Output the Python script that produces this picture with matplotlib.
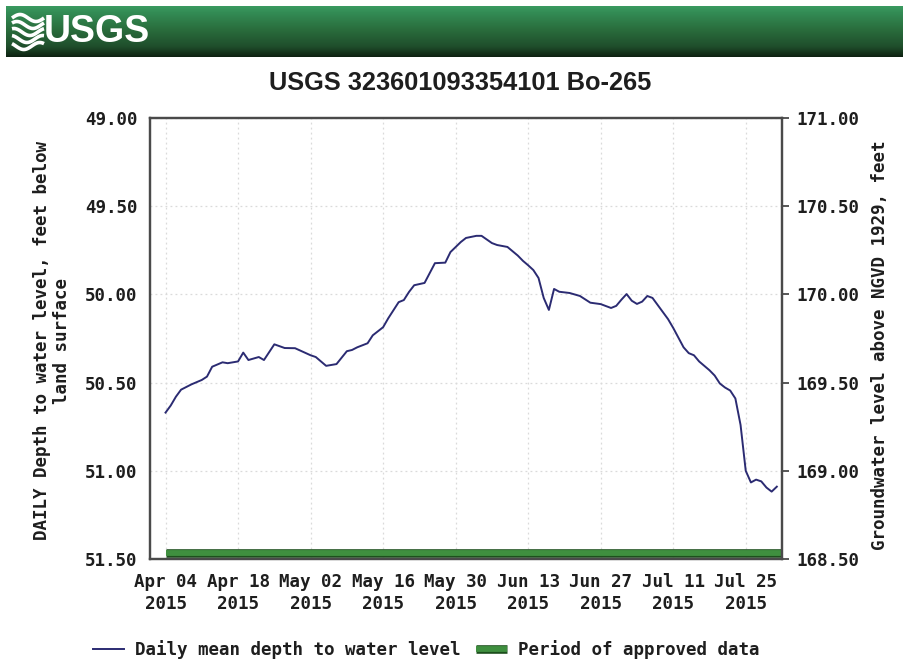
import matplotlib
matplotlib.use('Agg')
import matplotlib.pyplot as plt
import matplotlib.patheffects as pe
from matplotlib import font_manager
from matplotlib.lines import Line2D
import numpy as np
import pandas as pd

# ---------------- data ----------------
dates = ['2015-04-04', '2015-04-05', '2015-04-06', '2015-04-07', '2015-04-09',
         '2015-04-11', '2015-04-12', '2015-04-13', '2015-04-15', '2015-04-16',
         '2015-04-18', '2015-04-19', '2015-04-20', '2015-04-22', '2015-04-23',
         '2015-04-25', '2015-04-27', '2015-04-29', '2015-05-02', '2015-05-03',
         '2015-05-05', '2015-05-07', '2015-05-09', '2015-05-10', '2015-05-11',
         '2015-05-13', '2015-05-14', '2015-05-16', '2015-05-17', '2015-05-19',
         '2015-05-20', '2015-05-21', '2015-05-22', '2015-05-24', '2015-05-25',
         '2015-05-26', '2015-05-28', '2015-05-29', '2015-05-31', '2015-06-01',
         '2015-06-03', '2015-06-04', '2015-06-06', '2015-06-07', '2015-06-09',
         '2015-06-11', '2015-06-12', '2015-06-13', '2015-06-14', '2015-06-15',
         '2015-06-16', '2015-06-17', '2015-06-18', '2015-06-19', '2015-06-21',
         '2015-06-23', '2015-06-25', '2015-06-27', '2015-06-29', '2015-06-30',
         '2015-07-01', '2015-07-02', '2015-07-03', '2015-07-04', '2015-07-05',
         '2015-07-06', '2015-07-07', '2015-07-08', '2015-07-09', '2015-07-10',
         '2015-07-11', '2015-07-12', '2015-07-13', '2015-07-14', '2015-07-15',
         '2015-07-16', '2015-07-17', '2015-07-18', '2015-07-19', '2015-07-20',
         '2015-07-21', '2015-07-22', '2015-07-23', '2015-07-24', '2015-07-25',
         '2015-07-26', '2015-07-27', '2015-07-28', '2015-07-29', '2015-07-30',
         '2015-07-31']
depth = [50.67, 50.63, 50.58, 50.54, 50.51,
         50.485, 50.466, 50.41, 50.385, 50.39,
         50.38, 50.33, 50.372, 50.355, 50.372,
         50.283, 50.304, 50.305, 50.345, 50.355,
         50.405, 50.395, 50.322, 50.315, 50.30,
         50.277, 50.232, 50.186, 50.135, 50.044,
         50.032, 49.986, 49.948, 49.935, 49.879,
         49.823, 49.82, 49.76, 49.703, 49.68,
         49.668, 49.668, 49.709, 49.72, 49.731,
         49.78, 49.81, 49.835, 49.862, 49.907,
         50.02, 50.088, 49.969, 49.985, 49.992,
         50.009, 50.047, 50.055, 50.077, 50.065,
         50.03, 49.998, 50.036, 50.054, 50.041,
         50.009, 50.02, 50.06, 50.10, 50.14,
         50.19, 50.245, 50.30, 50.333, 50.345,
         50.38, 50.405, 50.43, 50.46, 50.505,
         50.528, 50.545, 50.59, 50.74, 51.00,
         51.066, 51.05, 51.06, 51.095, 51.118,
         51.09]

land_surface_altitude = 220.0      # ft above NGVD 1929 (depth + level)
approved_period = ['2015-04-04', '2015-08-01']
approved_bar_depth = 51.466
x_limits = ['2015-04-01', '2015-08-01']
x_ticks = ['2015-04-04', '2015-04-18', '2015-05-02', '2015-05-16', '2015-05-30',
           '2015-06-13', '2015-06-27', '2015-07-11', '2015-07-25']
x_tick_labels = ['Apr 04\n2015', 'Apr 18\n2015', 'May 02\n2015', 'May 16\n2015',
                 'May 30\n2015', 'Jun 13\n2015', 'Jun 27\n2015', 'Jul 11\n2015',
                 'Jul 25\n2015']
left_ticks = [49.00, 49.50, 50.00, 50.50, 51.00, 51.50]
right_ticks = [171.00, 170.50, 170.00, 169.50, 169.00, 168.50]

title = 'USGS 323601093354101 Bo-265'
left_label = 'DAILY Depth to water level, feet below\nland surface'
right_label = 'Groundwater level above NGVD 1929, feet'
legend_labels = ['Daily mean depth to water level', 'Period of approved data']

# ---------------- styles ----------------
W, H = 904, 663
navy = '#2b2b72'
green = '#3f8f3f'
green_edge = '#1d4f1d'
grid_c = '#dadada'
spine_c = '#4a4a4a'
text_c = '#1e1e1e'

avail = {f.name for f in font_manager.fontManager.ttflist}
if 'Liberation Sans Narrow' in avail:
    narrow, title_size, logo_size = 'Liberation Sans Narrow', 22, 31
else:
    narrow, title_size, logo_size = 'Liberation Sans', 18.3, 27
mono = 'DejaVu Sans Mono'
mono_kw = dict(family=mono, weight='bold', size=12.6)

fig = plt.figure(figsize=(W / 100, H / 100), dpi=100)
fig.patch.set_facecolor('white')

def fx(px):
    return px / W

def fy(py):
    return 1 - py / H

# ---------------- banner ----------------
bx = fig.add_axes([fx(6), fy(57), 1 - fx(6), 51 / H])
bx.set_xlim(6, W)
bx.set_ylim(57, 6)
bx.axis('off')
stops = np.array([[0.0, 0x3a, 0x9a, 0x60],
                  [0.12, 0x33, 0x8c, 0x55],
                  [0.45, 0x2a, 0x6e, 0x3d],
                  [0.80, 0x1f, 0x4e, 0x2b],
                  [1.0, 0x0e, 0x22, 0x12]])
tt = np.linspace(0, 1, 60)
grad = np.stack([np.interp(tt, stops[:, 0], stops[:, i]) for i in (1, 2, 3)], axis=-1) / 255.0
img = np.repeat(grad[:, None, :], 10, axis=1)
bx.imshow(img, extent=(6, W, 57, 6), aspect='auto', interpolation='bilinear', zorder=0)
# USGS wave icon
wx = np.linspace(12, 44, 60)
for k, base in enumerate([18, 25, 32, 39, 46]):
    wy = base - 3.5 * np.sin((wx - 12) / 32 * 2 * np.pi + 0.6 * k)
    bx.plot(wx, wy, color='white', lw=2.6, solid_capstyle='butt', zorder=2)
bx.text(44, 32, 'USGS', color='white', fontsize=logo_size, fontweight='bold',
        family=narrow, ha='left', va='center', zorder=3)

# ---------------- title ----------------
fig.text(fx(460), fy(83), title, ha='center', va='center', fontsize=title_size,
         fontweight='bold', family=narrow, color=text_c)

# ---------------- main axes ----------------
ax = fig.add_axes([fx(150), fy(559), fx(782 - 150), (559 - 118) / H])
x = pd.to_datetime(dates)
ax.plot(x, depth, color=navy, lw=1.4, zorder=3)
ax.plot(pd.to_datetime(approved_period), [approved_bar_depth] * 2,
        color=green, lw=4.2, solid_capstyle='butt', zorder=2,
        path_effects=[pe.Stroke(linewidth=6.2, foreground=green_edge), pe.Normal()])

ax.set_xlim(pd.to_datetime(x_limits))
ax.set_ylim(left_ticks[-1], left_ticks[0])
ax.set_yticks(left_ticks)
ax.set_yticklabels([f'{v:.2f}' for v in left_ticks], **mono_kw, color=text_c)
ax.set_xticks(pd.to_datetime(x_ticks))
ax.set_xticklabels(x_tick_labels, **mono_kw, color=text_c, linespacing=1.3)
ax.tick_params(axis='y', length=0, pad=9)
ax.tick_params(axis='x', length=0, pad=10)
ax.grid(True, color=grid_c, linestyle=(0, (1.5, 2.5)), lw=0.9, zorder=0)
for s in ax.spines.values():
    s.set_color(spine_c)
    s.set_linewidth(1.6)

ax2 = ax.twinx()
ax2.set_ylim(land_surface_altitude - left_ticks[-1], land_surface_altitude - left_ticks[0])
ax2.set_yticks(right_ticks)
ax2.set_yticklabels([f'{v:.2f}' for v in right_ticks], **mono_kw, color=text_c)
ax2.tick_params(axis='y', direction='out', length=5, width=1.3, color=spine_c, pad=5)
for s in ax2.spines.values():
    s.set_color(spine_c)
    s.set_linewidth(1.6)

# axis labels
fig.text(fx(52), fy(341), left_label, rotation=90, ha='center', va='center',
         multialignment='center', linespacing=1.2, color=text_c, **mono_kw)
fig.text(fx(880), fy(345), right_label, rotation=90, ha='center', va='center',
         color=text_c, **mono_kw)

# ---------------- legend ----------------
h1 = Line2D([], [], color=navy, lw=1.4)
h2 = Line2D([], [], color=green, lw=4.2, solid_capstyle='butt',
            path_effects=[pe.Stroke(linewidth=6.2, foreground=green_edge), pe.Normal()])
leg = fig.legend([h1, h2], legend_labels, loc='center', bbox_to_anchor=(fx(426), fy(650)),
                 ncol=2, frameon=False, handlelength=1.8, handletextpad=0.6,
                 columnspacing=0.9, prop=dict(family=mono, weight='bold', size=12.6))
for t in leg.get_texts():
    t.set_color(text_c)

fig.savefig('out.png', dpi=100, facecolor='white')
